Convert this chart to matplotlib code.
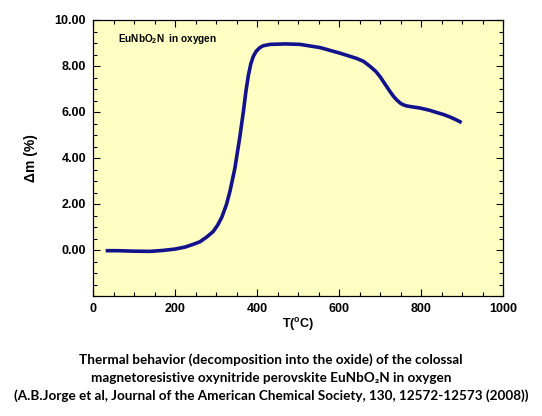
import matplotlib
matplotlib.use("Agg")
import matplotlib.pyplot as plt
from matplotlib.ticker import MultipleLocator, FormatStrFormatter

# TGA curve
temp = [31, 60, 98, 139, 170, 200, 225, 245, 261, 277, 293, 304, 314, 325, 334,
        346, 358, 367, 373, 379, 385, 391, 398, 407, 415, 432, 470, 505, 554,
        602, 643, 660, 676, 690, 700, 712, 724, 733, 741, 750, 757, 766, 780,
        798, 820, 838, 855, 871, 887, 899]
mass = [-0.03, -0.03, -0.05, -0.06, -0.02, 0.04, 0.13, 0.25, 0.36, 0.56, 0.8,
        1.08, 1.42, 1.95, 2.55, 3.55, 4.9, 6.05, 6.9, 7.6, 8.1, 8.42, 8.64,
        8.8, 8.88, 8.94, 8.96, 8.94, 8.8, 8.56, 8.33, 8.2, 7.98, 7.76, 7.54,
        7.22, 6.9, 6.68, 6.52, 6.38, 6.31, 6.26, 6.22, 6.17, 6.08, 5.98, 5.89,
        5.78, 5.65, 5.54]

xticks = [0, 200, 400, 600, 800, 1000]
yticks = [0, 2, 4, 6, 8, 10]

caption = ["Thermal behavior (decomposition into the oxide) of the colossal",
           "magnetoresistive oxynitride perovskite EuNbO\u2082N in oxygen",
           "(A.B.Jorge et al, Journal of the American Chemical Society, 130, 12572-12573 (2008))"]

plt.rcParams['font.family'] = ['Liberation Sans', 'DejaVu Sans']

fig = plt.figure(figsize=(5.42, 4.16), dpi=100)
ax = fig.add_axes([93/542, 1 - 296/416, 410/542, 276/416])
ax.set_facecolor('#ffffc4')

ax.plot(temp, mass, color='#12128c', lw=2.6, solid_capstyle='butt')

ax.set_xlim(0, 1000)
ax.set_ylim(-2, 10)
ax.set_xticks(xticks)
ax.set_yticks(yticks)
ax.xaxis.set_minor_locator(MultipleLocator(50))
ax.yaxis.set_minor_locator(MultipleLocator(0.5))
ax.yaxis.set_major_formatter(FormatStrFormatter('%.2f'))
ax.tick_params(which='both', direction='in', top=True, right=True, width=0.8)
ax.tick_params(which='major', length=5, labelsize=9, pad=5)
ax.tick_params(which='minor', length=3)
for lab in ax.get_xticklabels() + ax.get_yticklabels():
    lab.set_fontweight('bold')
for s in ax.spines.values():
    s.set_linewidth(0.9)

ax.set_xlabel(r'T($^{\mathregular{o}}$C)', fontsize=9, fontweight='bold', labelpad=1)
ax.set_ylabel('\u0394m (%)', fontsize=10, fontweight='bold', labelpad=12)

ax.text(0.062, 0.93, r'EuNbO$_{\mathregular{2}}$N  in oxygen', transform=ax.transAxes,
        fontsize=7.2, fontweight='bold', va='center')

ys = [360, 378, 396]
for line, y in zip(caption, ys):
    fig.text(0.5, 1 - y/416, line, ha='center', va='center', fontsize=9.7,
             fontweight='bold', family=['Lato', 'DejaVu Sans'])

fig.savefig('out.png', dpi=100, facecolor='white')
